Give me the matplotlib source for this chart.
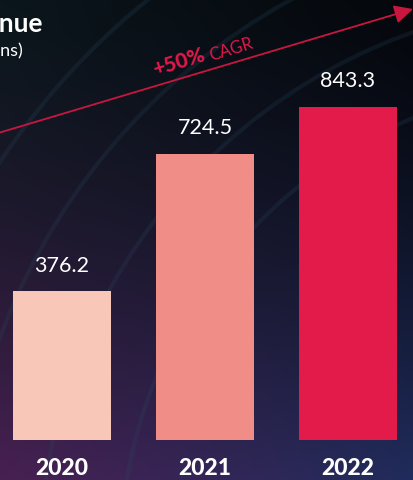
import numpy as np
import matplotlib.pyplot as plt
from matplotlib.patches import Arc

years = ['2020', '2021', '2022']
revenue = [376.2, 724.5, 843.3]
bar_colors = ['#F9C7B8', '#F08D86', '#E31B4A']
title = 'Revenue'
subtitle = '(in millions)'
cagr_bold = '+50%'
cagr_rest = 'CAGR'

W, H = 413, 480
fig = plt.figure(figsize=(W / 100, H / 100), dpi=100)

# background gradient + faint swooshes
bg = fig.add_axes([0, 0, 1, 1])
yy, xx = np.mgrid[0:1:H * 1j, 0:1:W * 1j]
tl = np.array([0x0b, 0x16, 0x1c]) / 255
tr = np.array([0x05, 0x07, 0x0c]) / 255
bl = np.array([0x48, 0x20, 0x52]) / 255
br = np.array([0x20, 0x2c, 0x5c]) / 255
t = (yy ** 1.4)[..., None]
s = xx[..., None]
top = tl * (1 - s) + tr * s
bot = bl * (1 - s) + br * s
img = top * (1 - t) + bot * t
bg.imshow(img, extent=(0, W, H, 0), aspect='auto')
for r in [480, 560, 640, 720]:
    bg.add_patch(Arc((600, 560), 2 * r, 2 * r, theta1=180, theta2=265,
                     color='#2a4a60', lw=3, alpha=0.22))
bg.set_xlim(0, W)
bg.set_ylim(H, 0)
bg.axis('off')

# CAGR arrow
bg.annotate('', xy=(413, 9), xytext=(-5, 134),
            arrowprops=dict(arrowstyle='-|>', color='#C8173F', lw=1.3,
                            mutation_scale=28, shrinkA=0, shrinkB=0))
bg.text(179, 62, cagr_bold, color='#E0194A', fontsize=15, fontweight='black',
        family='Lato', rotation=17, ha='center', va='center', rotation_mode='anchor')
bg.text(231, 50, cagr_rest, color='#E0194A', fontsize=12,
        family='Lato', rotation=17, ha='center', va='center', rotation_mode='anchor')

# titles, cut off at the left edge like the source
fig.text(43 / W, 1 - 24 / H, title, color='white', fontsize=19, fontweight='bold',
         family='Lato', ha='right', va='center')
fig.text(23 / W, 1 - 51 / H, subtitle, color='white', fontsize=13,
         family='Lato', ha='right', va='center')

ax = fig.add_axes([0, 40 / H, 1, 440 / H])
ax.patch.set_alpha(0)
x = np.arange(len(years))
ax.bar(x, revenue, width=0.68, color=bar_colors)
for xi, v in zip(x, revenue):
    ax.text(xi, v + 50, f'{v}', color='white', fontsize=15.5, family='Lato',
            ha='center', va='baseline')
ax.set_xlim(-0.434, 2.455)
ax.set_ylim(0, 1114)
ax.set_xticks(x, years)
ax.tick_params(length=0, pad=13, labelsize=16.5, colors='white')
for lab in ax.get_xticklabels():
    lab.set_fontweight('black')
    lab.set_family('Lato')
ax.set_yticks([])
for sp in ax.spines.values():
    sp.set_visible(False)

fig.savefig('out.png', dpi=100)
